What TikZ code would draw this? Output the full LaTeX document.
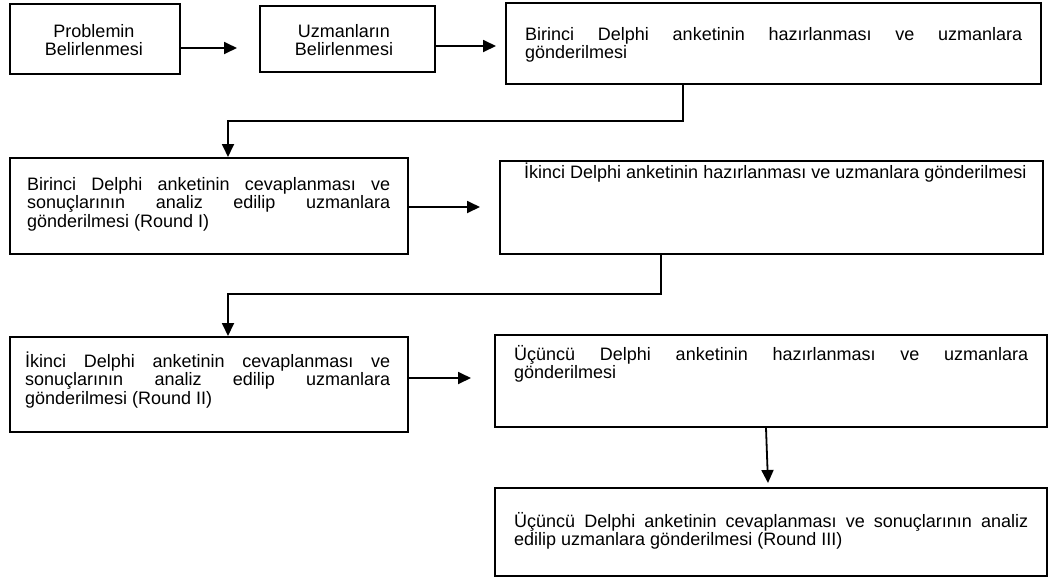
\documentclass[tikz,border=0pt]{standalone}
\usepackage{fontspec}
\setmainfont{Liberation Sans}
\usetikzlibrary{arrows.meta}
\newcommand{\fl}{\rule{0pt}{18pt}}
\tikzset{
  box/.style={draw=black, line width=2pt, inner sep=0pt, anchor=north west},
  txt/.style={inner sep=0pt, font=\fontsize{18}{18.5}\selectfont},
  arr/.style={draw=black, line width=1.8pt, -{Triangle[length=13pt,width=12pt]}}
}
\begin{document}
\begin{tikzpicture}[x=1pt,y=-1pt]
\useasboundingbox (0,0) rectangle (1048,579);
% boxes
\node[box, minimum width=170pt, minimum height=70pt] (b1) at (9,3) {};
\node[box, minimum width=175pt, minimum height=66pt] (b2) at (259,5) {};
\node[box, minimum width=535pt, minimum height=81pt] (b3) at (505,2) {};
\node[box, minimum width=398pt, minimum height=96pt] (b4) at (9,157) {};
\node[box, minimum width=543pt, minimum height=93pt] (b5) at (499,160) {};
\node[box, minimum width=398pt, minimum height=95pt] (b6) at (9,336) {};
\node[box, minimum width=552pt, minimum height=92pt] (b7) at (494,334) {};
\node[box, minimum width=552pt, minimum height=88pt] (b8) at (494,487) {};
% texts
\node[txt, align=center, anchor=north] (x1) at (94,19) {\fl Problemin\\Belirlenmesi};
\node[txt, align=center, anchor=north] (x2) at (344,19) {\fl Uzmanların\\Belirlenmesi};
\node[txt, align=left, anchor=north west] (x3) at (525,22) {\fl\makebox[497pt][s]{Birinci Delphi anketinin hazırlanması ve uzmanlara}\\gönderilmesi};
\node[txt, align=left, anchor=north west] (x4) at (27,172) {\fl\makebox[363pt][s]{Birinci Delphi anketinin cevaplanması ve}\\\makebox[363pt][s]{sonuçlarının analiz edilip uzmanlara}\\gönderilmesi (Round I)};
\node[txt, align=left, anchor=north west] (x5) at (524,160) {\fl İkinci Delphi anketinin hazırlanması ve uzmanlara gönderilmesi};
\node[txt, align=left, anchor=north west] (x6) at (25,349) {\fl\makebox[365pt][s]{İkinci Delphi anketinin cevaplanması ve}\\\makebox[365pt][s]{sonuçlarının analiz edilip uzmanlara}\\gönderilmesi (Round II)};
\node[txt, align=left, anchor=north west] (x7) at (514,342) {\fl\makebox[514pt][s]{Üçüncü Delphi anketinin hazırlanması ve uzmanlara}\\gönderilmesi};
\node[txt, align=left, anchor=north west] (x8) at (514,509) {\fl\makebox[514pt][s]{Üçüncü Delphi anketinin cevaplanması ve sonuçlarının analiz}\\edilip uzmanlara gönderilmesi (Round III)};
% connector coordinates
\coordinate (t1) at (237,48);
\coordinate (t2) at (496,46);
\coordinate (k1) at (683,121);
\coordinate (k1b) at (228,121);
\coordinate (t3) at (480,207);
\coordinate (k2) at (661,294);
\coordinate (k2b) at (228,294);
\coordinate (t4) at (471,378);
\coordinate (t5) at (768,483);
% connectors
\draw[arr] (t1 -| b1.east) -- (t1);
\draw[arr] (t2 -| b2.east) -- (t2);
\draw[arr] (k1 |- b3.south) -- (k1) -- (k1b) -- (k1b |- b4.north);
\draw[arr] (t3 -| b4.east) -- (t3);
\draw[arr] (k2 |- b5.south) -- (k2) -- (k2b) -- (k2b |- b6.north);
\draw[arr] (t4 -| b6.east) -- (t4);
\draw[arr] ([xshift=-5pt]b7.south) -- (t5);
\end{tikzpicture}
\end{document}
